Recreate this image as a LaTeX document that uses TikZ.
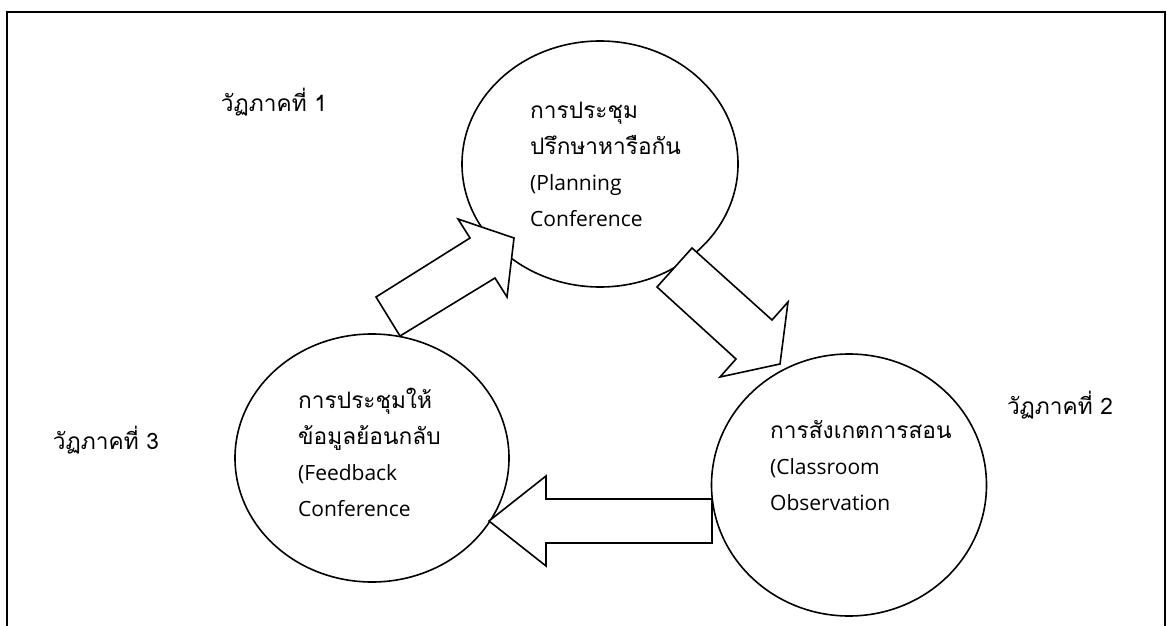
\documentclass[tikz,border=0pt]{standalone}
\usepackage{fontspec}
\setmainfont{Open Sans}
\newfontfamily\thaifont[Script=Thai, Scale=1.08]{Loma}
\usetikzlibrary{shapes.geometric}

\begin{document}
\begin{tikzpicture}[x=1pt, y=-1pt, line join=miter,
  phase/.style={draw, ellipse, line width=1.6pt, inner sep=0pt},
  blockarrow/.style={draw, line width=1.6pt, fill=white},
  caption/.style={font=\fontsize{21}{36}\selectfont, align=left, inner sep=0pt}]

\useasboundingbox (0,0) rectangle (1167,626);
\draw[line width=2pt] (7,626) -- (7,12) -- (1165,12) -- (1165,626);

% the three phases
\node[phase, minimum width=276pt, minimum height=246pt] (plan) at (600,164) {};
\node[phase, minimum width=275pt, minimum height=262pt] (observe) at (849,485) {};
\node[phase, minimum width=274pt, minimum height=248pt] (feedback) at (372,458) {};

% block arrows between them
\draw[blockarrow] (376,297) -- (470,238) -- (458,219) -- (514,238) -- (507,297) -- (495,278) -- (400,336) -- cycle;
\draw[blockarrow] (692,248) -- (772,320) -- (788,302) -- (780,364) -- (720,377) -- (736,359) -- (657,287) -- cycle;
\draw[blockarrow] (712,499) -- (546,499) -- (546,476) -- (489,521) -- (546,566) -- (546,543) -- (712,543) -- cycle;

% texts
\node[caption, anchor=west] (plantext) at (530,164) {{\thaifont การประชุม}\\{\thaifont ปรึกษาหารือกัน}\\(Planning\\Conference};
\node[caption, anchor=west] (observetext) at (770,466) {{\thaifont การสังเกตการสอน}\\(Classroom\\Observation};
\node[caption, anchor=west] (feedbacktext) at (298,452) {{\thaifont การประชุมให้}\\{\thaifont ข้อมูลย้อนกลับ}\\(Feedback\\Conference};

\node[caption] (phase1) at (274,102) {\thaifont วัฏภาคที่ 1};
\node[caption] (phase2) at (1060,405) {\thaifont วัฏภาคที่ 2};
\node[caption] (phase3) at (106,440) {\thaifont วัฏภาคที่ 3};

\end{tikzpicture}
\end{document}
